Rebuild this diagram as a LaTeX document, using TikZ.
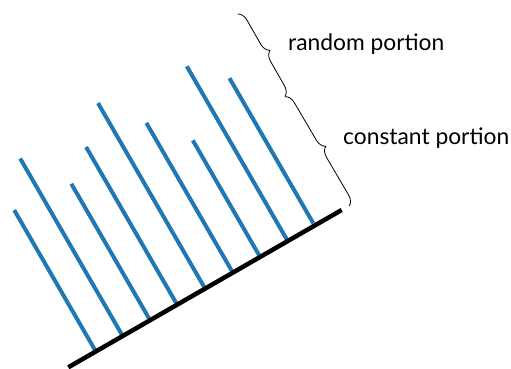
\documentclass[tikz,border=0pt]{standalone}
\usepackage{fontspec}
\setmainfont{Lato}
\usetikzlibrary{decorations.pathreplacing}
\definecolor{mplblue}{RGB}{31,119,180}
\tikzset{
  stem/.style={draw=mplblue, line width=4pt},
  ground/.style={draw=black, line width=4.5pt},
  bracefig/.style={draw=black, line width=0.8pt, decorate, decoration={brace, amplitude=10pt}},
  lbl/.style={anchor=west, inner sep=0pt, font=\fontsize{22.8}{27}\selectfont}
}
\begin{document}
\begin{tikzpicture}[x=1pt, y=-1pt]
\useasboundingbox (0,0) rectangle (511,369);
\coordinate (gs) at (68.3,367.3);
\coordinate (ge) at (341.7,210);
\coordinate (b1) at (95,350);     \coordinate (t1) at (14.25,210.1);
\coordinate (b2) at (121.7,334.3);\coordinate (t2) at (20.2,158.5);
\coordinate (b3) at (149,318.3);  \coordinate (t3) at (71.35,183.8);
\coordinate (b4) at (176,302.7);  \coordinate (t4) at (86.1,147.0);
\coordinate (b5) at (204,286.7);  \coordinate (t5) at (98,103.1);
\coordinate (b6) at (231.7,270.7);\coordinate (t6) at (146.35,122.9);
\coordinate (b7) at (259,255);    \coordinate (t7) at (192.85,140.4);
\coordinate (b8) at (286.7,239.3);\coordinate (t8) at (186.8,66.3);
\coordinate (b9) at (313.3,223.3);\coordinate (t9) at (229.5,78.2);
\foreach \i in {1,...,9} { \draw[stem] (b\i) -- (t\i); }
\draw[ground] (gs) -- (ge);
\coordinate (br1) at (237.7,14);
\coordinate (br2) at (285,96.7);
\coordinate (br3) at (349.3,206);
\draw[bracefig] (br1) -- (br2);
\draw[bracefig] (br2) -- (br3);
\node[lbl] (rp) at (288,44) {random portion};
\node[lbl] (cp) at (343,138) {constant portion};
\end{tikzpicture}
\end{document}
